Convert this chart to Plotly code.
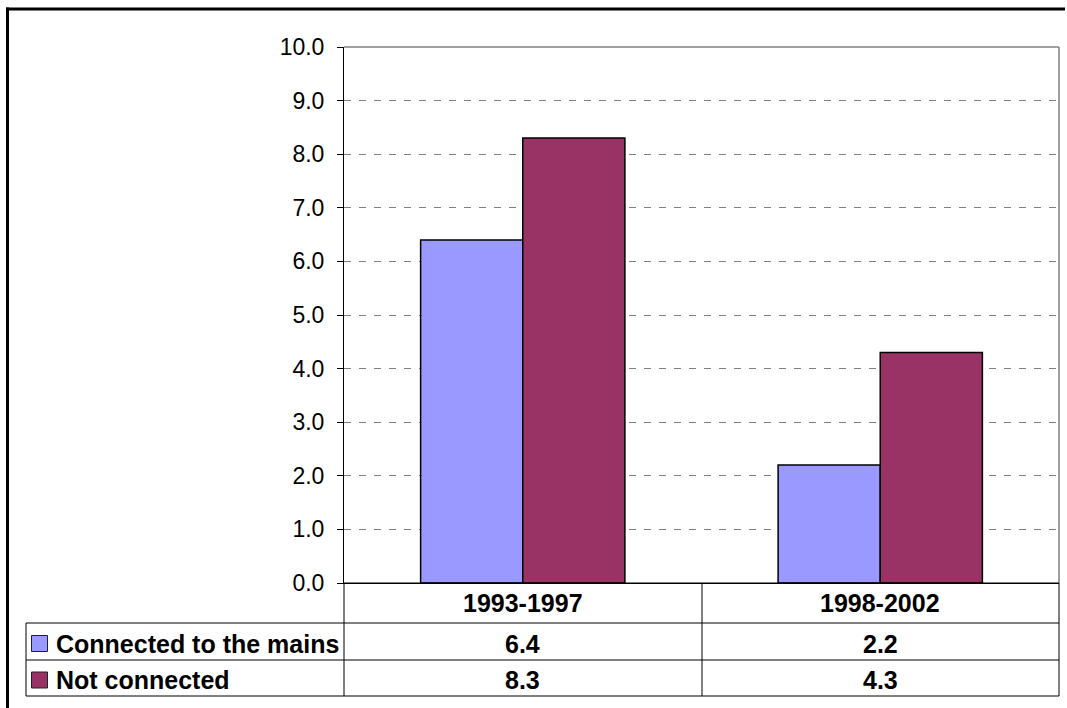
import plotly.graph_objects as go

# Chart data
periods = ["1993-1997", "1998-2002"]
series_names = ["Connected to the mains", "Not connected"]
connected = [6.4, 2.2]
not_connected = [8.3, 4.3]
series_colors = ["#9999FF", "#993366"]
y_ticks = [0, 1, 2, 3, 4, 5, 6, 7, 8, 9, 10]

W, H = 1067, 708
# plot area in pixels
L, R, T, B = 344, 1059, 47, 583
PW, PH = R - L, B - T


def px(x):
    return (x - L) / PW


def py(y):
    return (B - y) / PH


FONT = "Liberation Sans, Arial, sans-serif"

fig = go.Figure()
for name, vals, col in zip(series_names, [connected, not_connected], series_colors):
    fig.add_trace(go.Bar(
        x=periods, y=vals, name=name,
        marker=dict(color=col, line=dict(color="#000000", width=1.5)),
        showlegend=False,
    ))

shapes = []
line_k = dict(color="#000000", width=1)

# plot-area frame (grey top/right)
shapes.append(dict(type="line", xref="paper", yref="paper", x0=0, x1=1, y0=1, y1=1,
                   line=dict(color="#808080", width=1.5), layer="above"))
shapes.append(dict(type="line", xref="paper", yref="paper", x0=1, x1=1, y0=0, y1=1,
                   line=dict(color="#808080", width=1.5), layer="above"))

# data table grid
for yy, x_start in [(B, L), (623, 26), (660, 26), (696, 26)]:
    shapes.append(dict(type="line", xref="paper", yref="paper",
                       x0=px(x_start), x1=px(R), y0=py(yy), y1=py(yy), line=line_k))
shapes.append(dict(type="line", xref="paper", yref="paper",
                   x0=px(26), x1=px(26), y0=py(623), y1=py(696), line=line_k))
for xx in [L, 702, R]:
    shapes.append(dict(type="line", xref="paper", yref="paper",
                       x0=px(xx), x1=px(xx), y0=py(B), y1=py(696), line=line_k))

# outer chart border: top and left edges
border = dict(color="#000000", width=3)
shapes.append(dict(type="line", xref="paper", yref="paper",
                   x0=px(6), x1=px(1065), y0=py(9), y1=py(9), line=border))
shapes.append(dict(type="line", xref="paper", yref="paper",
                   x0=px(7.5), x1=px(7.5), y0=py(7.5), y1=py(H), line=border))

annotations = []
row_centers = [641.5, 678]
# legend keys and row labels
for name, col, yc in zip(series_names, series_colors, row_centers):
    shapes.append(dict(type="rect", xref="paper", yref="paper",
                       x0=px(31.5), x1=px(47.5), y0=py(yc - 6), y1=py(yc + 10),
                       fillcolor=col, line=dict(color="#222222", width=1)))
    annotations.append(dict(xref="paper", yref="paper", x=px(54), y=py(yc + 2),
                            text=f"<b>{name}</b>", showarrow=False, xanchor="left",
                            yanchor="middle",
                            font=dict(family=FONT, size=25, color="#000000")))

# category header row and values
for i, p in enumerate(periods):
    annotations.append(dict(xref="x", yref="paper", x=p, y=py(603),
                            text=f"<b>{p}</b>", showarrow=False, yanchor="middle",
                            font=dict(family=FONT, size=25, color="#000000")))
    for vals, yc in zip([connected, not_connected], row_centers):
        annotations.append(dict(xref="x", yref="paper", x=p, y=py(yc + 2),
                                text=f"<b>{vals[i]:.1f}</b>", showarrow=False,
                                yanchor="middle",
                                font=dict(family=FONT, size=25, color="#000000")))

fig.update_layout(
    width=W, height=H,
    margin=dict(l=L, r=W - R, t=T, b=H - B, pad=0),
    paper_bgcolor="#FFFFFF", plot_bgcolor="#FFFFFF",
    barmode="group", bargap=0.4286, bargroupgap=0,
    shapes=shapes, annotations=annotations,
    xaxis=dict(showticklabels=False, ticks="", showgrid=False, zeroline=False,
               showline=True, linecolor="#000000", linewidth=1, fixedrange=True),
    yaxis=dict(range=[0, 10], tickvals=y_ticks, tickformat=".1f",
               ticks="outside", ticklen=6, tickcolor="#000000", tickwidth=1,
               showline=True, linecolor="#000000", linewidth=1,
               showgrid=True, gridcolor="#808080", gridwidth=1, griddash="7px,8px",
               zeroline=False, fixedrange=True,
               tickfont=dict(family=FONT, size=23, color="#000000"),
               ticklabelstandoff=8),
    showlegend=False,
)

fig.write_html("out.html", config={"displayModeBar": False})
